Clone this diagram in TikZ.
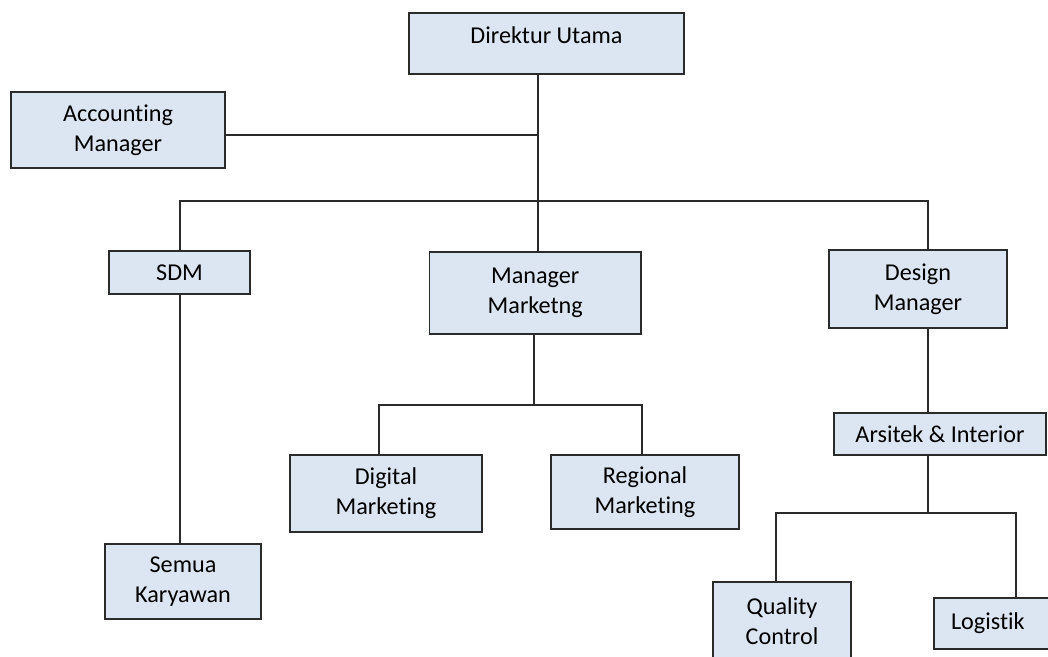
\documentclass[tikz,border=0pt]{standalone}
\usepackage{fontspec}
\setmainfont{Carlito}[Ligatures={NoCommon}]
\definecolor{boxblue}{HTML}{DCE6F2}
\definecolor{edge}{HTML}{2B2B2B}
\begin{document}
\begin{tikzpicture}[x=1pt,y=-1pt,
  box/.style={draw=edge, fill=boxblue, line width=1.5pt, inner sep=0pt, align=center,
    text=black, font=\fontsize{24.2}{30}\selectfont},
  conn/.style={draw=edge, line width=1.4pt}]
\useasboundingbox[fill=white] (0,0) rectangle (1048,656);
% boxes
\node[box, minimum width=275pt, minimum height=61pt, text depth=16pt] (dir) at (546.5,43.5) {Direktur Utama};
\node[box, minimum width=214pt, minimum height=76pt] (acc) at (118,130) {Accounting\\Manager};
\node[box, minimum width=141pt, minimum height=43pt] (sdm) at (179.5,272.5) {SDM};
\node[box, minimum width=211.5pt, minimum height=82pt] (mm) at (535.25,293) {Manager\\Marketng};
\node[box, minimum width=178pt, minimum height=78pt] (dm) at (918,289) {Design\\Manager};
\node[box, minimum width=192pt, minimum height=77pt] (dig) at (386,493.5) {Digital\\Marketing};
\node[box, minimum width=188pt, minimum height=74pt] (reg) at (645,492) {Regional\\Marketing};
\node[box, minimum width=156pt, minimum height=75pt] (sk) at (183,581.5) {Semua\\Karyawan};
\node[box, minimum width=212pt, minimum height=42pt] (ars) at (940,434) {Arsitek \& Interior};
\node[box, minimum width=138pt, minimum height=78pt] (qc) at (782,621) {Quality\\Control};
\node[box, minimum width=118pt, minimum height=51pt, text width=84pt, inner xsep=17pt, align=left] (log) at (993,623.5) {Logistik};
% junction coordinates
\coordinate (t1) at (538,201);
\coordinate (j1) at (538,135);
\coordinate (b1) at (180,201);
\coordinate (b2) at (928,201);
\coordinate (m1) at (534,405);
\coordinate (m2) at (379,405);
\coordinate (m3) at (642,405);
\coordinate (a1) at (928,513);
\coordinate (a2) at (776,513);
\coordinate (a3) at (1016,513);
% connectors
\draw[conn] (dir.south -| t1) -- (mm.north -| t1);
\draw[conn] (acc.east |- j1) -- (j1);
\draw[conn] (sdm.north -| b1) -- (b1) -- (b2) -- (dm.north -| b2);
\draw[conn] (sdm.south -| b1) -- (sk.north -| b1);
\draw[conn] (mm.south -| m1) -- (m1);
\draw[conn] (dig.north -| m2) -- (m2) -- (m3) -- (reg.north -| m3);
\draw[conn] (dm.south -| b2) -- (ars.north -| b2);
\draw[conn] (ars.south -| a1) -- (a1);
\draw[conn] (qc.north -| a2) -- (a2) -- (a3) -- (log.north -| a3);
\end{tikzpicture}
\end{document}
